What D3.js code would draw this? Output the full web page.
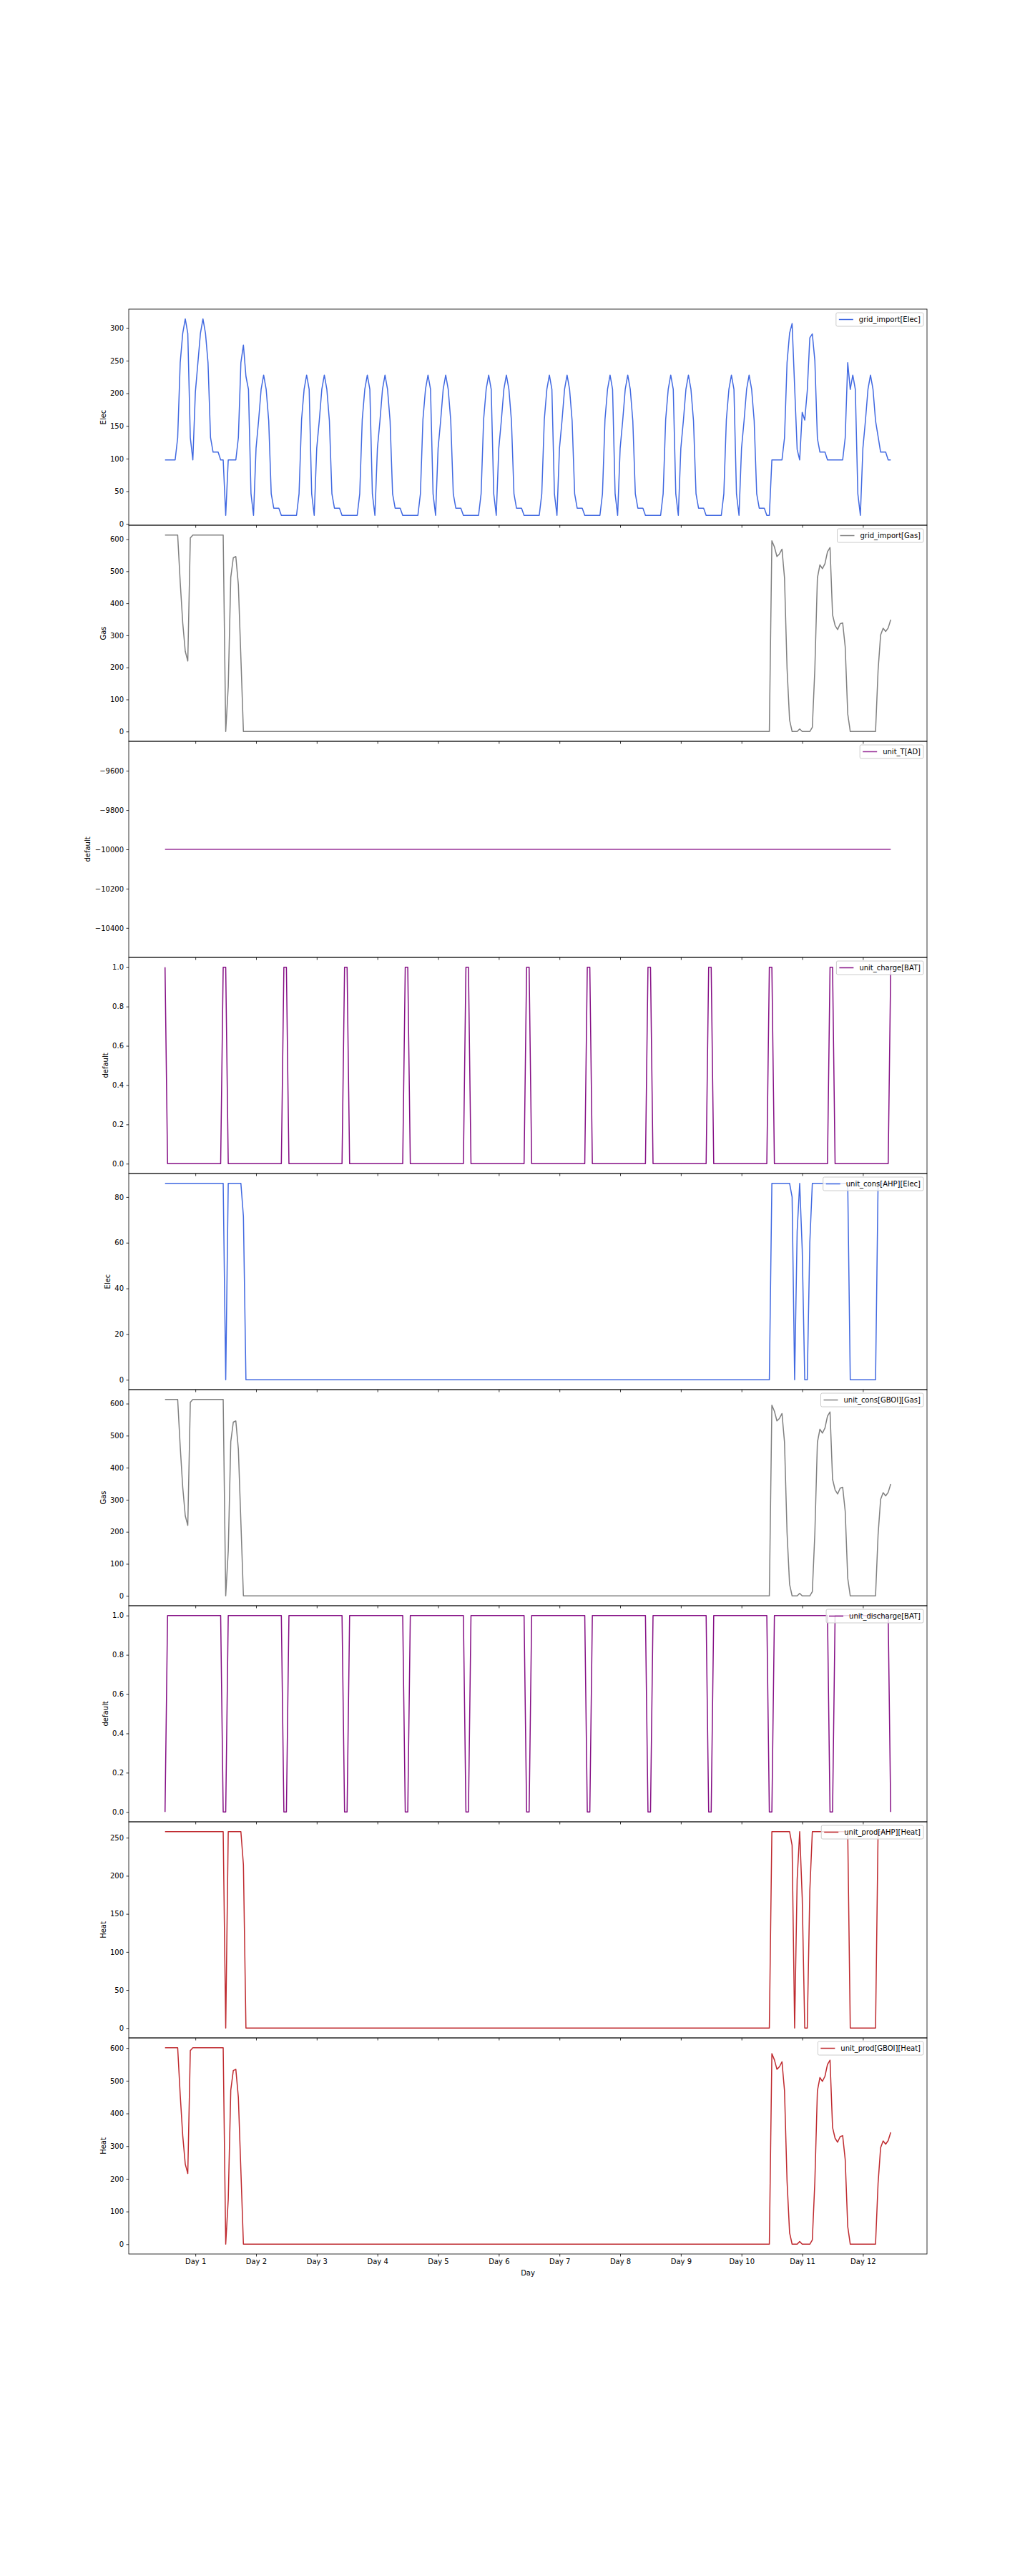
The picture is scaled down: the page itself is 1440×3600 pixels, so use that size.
<!DOCTYPE html>
<html>
<head>
<meta charset="utf-8">
<script src="https://cdn.jsdelivr.net/npm/d3@7"></script>
<style>
  body { margin: 0; background: #ffffff; }
  text { font-family: "DejaVu Sans", sans-serif; fill: #000; }
</style>
</head>
<body>
<svg id="chart" width="1440" height="3600"></svg>
<script>
// ---------------- DATA (hourly, 12 days = 288 points) ----------------
const dayLabels = ["Day 1","Day 2","Day 3","Day 4","Day 5","Day 6","Day 7","Day 8","Day 9","Day 10","Day 11","Day 12"];
const dayTickHours = [12,36,60,84,108,132,156,180,204,228,252,276];
const xLabel = "Day";

const gridImportElec = [
  98,98,98,98,98,132,247,292,314,292,132,98,202,247,292,314,292,247,132,110,110,110,98,98,
  13,98,98,98,98,132,247,274,226,206,46,13,116,158,206,228,206,158,46,24,24,24,13,13,
  13,13,13,13,13,46,160,206,228,206,46,13,116,158,206,228,206,158,46,24,24,24,13,13,
  13,13,13,13,13,46,160,206,228,206,46,13,116,158,206,228,206,158,46,24,24,24,13,13,
  13,13,13,13,13,46,160,206,228,206,46,13,116,158,206,228,206,158,46,24,24,24,13,13,
  13,13,13,13,13,46,160,206,228,206,46,13,116,158,206,228,206,158,46,24,24,24,13,13,
  13,13,13,13,13,46,160,206,228,206,46,13,116,158,206,228,206,158,46,24,24,24,13,13,
  13,13,13,13,13,46,160,206,228,206,46,13,116,158,206,228,206,158,46,24,24,24,13,13,
  13,13,13,13,13,46,160,206,228,206,46,13,116,158,206,228,206,158,46,24,24,24,13,13,
  13,13,13,13,13,46,160,206,228,206,46,13,116,158,206,228,206,158,46,24,24,24,13,13,
  98,98,98,98,98,132,247,292,307,210,114,98,171,159,204,285,291,250,131,110,110,110,98,98,
  98,98,98,98,98,132,247,206,228,206,46,13,116,158,206,228,206,158,134,110,110,110,98,98
];

const gridImportGas = [
  613,613,613,613,613,613,466,339,250,220,604,613,613,613,613,613,613,613,613,613,613,613,613,613,
  0,140,481,542,546,458,230,0,0,0,0,0,0,0,0,0,0,0,0,0,0,0,0,0,
  0,0,0,0,0,0,0,0,0,0,0,0,0,0,0,0,0,0,0,0,0,0,0,0,
  0,0,0,0,0,0,0,0,0,0,0,0,0,0,0,0,0,0,0,0,0,0,0,0,
  0,0,0,0,0,0,0,0,0,0,0,0,0,0,0,0,0,0,0,0,0,0,0,0,
  0,0,0,0,0,0,0,0,0,0,0,0,0,0,0,0,0,0,0,0,0,0,0,0,
  0,0,0,0,0,0,0,0,0,0,0,0,0,0,0,0,0,0,0,0,0,0,0,0,
  0,0,0,0,0,0,0,0,0,0,0,0,0,0,0,0,0,0,0,0,0,0,0,0,
  0,0,0,0,0,0,0,0,0,0,0,0,0,0,0,0,0,0,0,0,0,0,0,0,
  0,0,0,0,0,0,0,0,0,0,0,0,0,0,0,0,0,0,0,0,0,0,0,0,
  595,576,546,554,569,479,197,36,0,0,0,8,0,0,0,0,13,196,479,520,508,524,561,574,
  364,331,318,336,339,264,55,0,0,0,0,0,0,0,0,0,0,0,190,301,322,312,323,349
];

const unitTAD = [
  -10000,-10000,-10000,-10000,-10000,-10000,-10000,-10000,-10000,-10000,-10000,-10000,-10000,-10000,-10000,-10000,-10000,-10000,-10000,-10000,-10000,-10000,-10000,-10000,
  -10000,-10000,-10000,-10000,-10000,-10000,-10000,-10000,-10000,-10000,-10000,-10000,-10000,-10000,-10000,-10000,-10000,-10000,-10000,-10000,-10000,-10000,-10000,-10000,
  -10000,-10000,-10000,-10000,-10000,-10000,-10000,-10000,-10000,-10000,-10000,-10000,-10000,-10000,-10000,-10000,-10000,-10000,-10000,-10000,-10000,-10000,-10000,-10000,
  -10000,-10000,-10000,-10000,-10000,-10000,-10000,-10000,-10000,-10000,-10000,-10000,-10000,-10000,-10000,-10000,-10000,-10000,-10000,-10000,-10000,-10000,-10000,-10000,
  -10000,-10000,-10000,-10000,-10000,-10000,-10000,-10000,-10000,-10000,-10000,-10000,-10000,-10000,-10000,-10000,-10000,-10000,-10000,-10000,-10000,-10000,-10000,-10000,
  -10000,-10000,-10000,-10000,-10000,-10000,-10000,-10000,-10000,-10000,-10000,-10000,-10000,-10000,-10000,-10000,-10000,-10000,-10000,-10000,-10000,-10000,-10000,-10000,
  -10000,-10000,-10000,-10000,-10000,-10000,-10000,-10000,-10000,-10000,-10000,-10000,-10000,-10000,-10000,-10000,-10000,-10000,-10000,-10000,-10000,-10000,-10000,-10000,
  -10000,-10000,-10000,-10000,-10000,-10000,-10000,-10000,-10000,-10000,-10000,-10000,-10000,-10000,-10000,-10000,-10000,-10000,-10000,-10000,-10000,-10000,-10000,-10000,
  -10000,-10000,-10000,-10000,-10000,-10000,-10000,-10000,-10000,-10000,-10000,-10000,-10000,-10000,-10000,-10000,-10000,-10000,-10000,-10000,-10000,-10000,-10000,-10000,
  -10000,-10000,-10000,-10000,-10000,-10000,-10000,-10000,-10000,-10000,-10000,-10000,-10000,-10000,-10000,-10000,-10000,-10000,-10000,-10000,-10000,-10000,-10000,-10000,
  -10000,-10000,-10000,-10000,-10000,-10000,-10000,-10000,-10000,-10000,-10000,-10000,-10000,-10000,-10000,-10000,-10000,-10000,-10000,-10000,-10000,-10000,-10000,-10000,
  -10000,-10000,-10000,-10000,-10000,-10000,-10000,-10000,-10000,-10000,-10000,-10000,-10000,-10000,-10000,-10000,-10000,-10000,-10000,-10000,-10000,-10000,-10000,-10000
];

const unitChargeBAT = [
  1,0,0,0,0,0,0,0,0,0,0,0,0,0,0,0,0,0,0,0,0,0,0,1,
  1,0,0,0,0,0,0,0,0,0,0,0,0,0,0,0,0,0,0,0,0,0,0,1,
  1,0,0,0,0,0,0,0,0,0,0,0,0,0,0,0,0,0,0,0,0,0,0,1,
  1,0,0,0,0,0,0,0,0,0,0,0,0,0,0,0,0,0,0,0,0,0,0,1,
  1,0,0,0,0,0,0,0,0,0,0,0,0,0,0,0,0,0,0,0,0,0,0,1,
  1,0,0,0,0,0,0,0,0,0,0,0,0,0,0,0,0,0,0,0,0,0,0,1,
  1,0,0,0,0,0,0,0,0,0,0,0,0,0,0,0,0,0,0,0,0,0,0,1,
  1,0,0,0,0,0,0,0,0,0,0,0,0,0,0,0,0,0,0,0,0,0,0,1,
  1,0,0,0,0,0,0,0,0,0,0,0,0,0,0,0,0,0,0,0,0,0,0,1,
  1,0,0,0,0,0,0,0,0,0,0,0,0,0,0,0,0,0,0,0,0,0,0,1,
  1,0,0,0,0,0,0,0,0,0,0,0,0,0,0,0,0,0,0,0,0,0,0,1,
  1,0,0,0,0,0,0,0,0,0,0,0,0,0,0,0,0,0,0,0,0,0,0,1
];

const unitConsAHPElec = [
  86,86,86,86,86,86,86,86,86,86,86,86,86,86,86,86,86,86,86,86,86,86,86,86,
  0,86,86,86,86,86,86,71.5,0,0,0,0,0,0,0,0,0,0,0,0,0,0,0,0,
  0,0,0,0,0,0,0,0,0,0,0,0,0,0,0,0,0,0,0,0,0,0,0,0,
  0,0,0,0,0,0,0,0,0,0,0,0,0,0,0,0,0,0,0,0,0,0,0,0,
  0,0,0,0,0,0,0,0,0,0,0,0,0,0,0,0,0,0,0,0,0,0,0,0,
  0,0,0,0,0,0,0,0,0,0,0,0,0,0,0,0,0,0,0,0,0,0,0,0,
  0,0,0,0,0,0,0,0,0,0,0,0,0,0,0,0,0,0,0,0,0,0,0,0,
  0,0,0,0,0,0,0,0,0,0,0,0,0,0,0,0,0,0,0,0,0,0,0,0,
  0,0,0,0,0,0,0,0,0,0,0,0,0,0,0,0,0,0,0,0,0,0,0,0,
  0,0,0,0,0,0,0,0,0,0,0,0,0,0,0,0,0,0,0,0,0,0,0,0,
  86,86,86,86,86,86,86,86,80,0,65,86,57,0,0,60,86,86,86,86,86,86,86,86,
  86,86,86,86,86,86,86,0,0,0,0,0,0,0,0,0,0,0,86,86,86,86,86,86
];

const unitConsGBOIGas = [
  613,613,613,613,613,613,466,339,250,220,604,613,613,613,613,613,613,613,613,613,613,613,613,613,
  0,140,481,542,546,458,230,0,0,0,0,0,0,0,0,0,0,0,0,0,0,0,0,0,
  0,0,0,0,0,0,0,0,0,0,0,0,0,0,0,0,0,0,0,0,0,0,0,0,
  0,0,0,0,0,0,0,0,0,0,0,0,0,0,0,0,0,0,0,0,0,0,0,0,
  0,0,0,0,0,0,0,0,0,0,0,0,0,0,0,0,0,0,0,0,0,0,0,0,
  0,0,0,0,0,0,0,0,0,0,0,0,0,0,0,0,0,0,0,0,0,0,0,0,
  0,0,0,0,0,0,0,0,0,0,0,0,0,0,0,0,0,0,0,0,0,0,0,0,
  0,0,0,0,0,0,0,0,0,0,0,0,0,0,0,0,0,0,0,0,0,0,0,0,
  0,0,0,0,0,0,0,0,0,0,0,0,0,0,0,0,0,0,0,0,0,0,0,0,
  0,0,0,0,0,0,0,0,0,0,0,0,0,0,0,0,0,0,0,0,0,0,0,0,
  595,576,546,554,569,479,197,36,0,0,0,8,0,0,0,0,13,196,479,520,508,524,561,574,
  364,331,318,336,339,264,55,0,0,0,0,0,0,0,0,0,0,0,190,301,322,312,323,349
];

const unitDischargeBAT = [
  0,1,1,1,1,1,1,1,1,1,1,1,1,1,1,1,1,1,1,1,1,1,1,0,
  0,1,1,1,1,1,1,1,1,1,1,1,1,1,1,1,1,1,1,1,1,1,1,0,
  0,1,1,1,1,1,1,1,1,1,1,1,1,1,1,1,1,1,1,1,1,1,1,0,
  0,1,1,1,1,1,1,1,1,1,1,1,1,1,1,1,1,1,1,1,1,1,1,0,
  0,1,1,1,1,1,1,1,1,1,1,1,1,1,1,1,1,1,1,1,1,1,1,0,
  0,1,1,1,1,1,1,1,1,1,1,1,1,1,1,1,1,1,1,1,1,1,1,0,
  0,1,1,1,1,1,1,1,1,1,1,1,1,1,1,1,1,1,1,1,1,1,1,0,
  0,1,1,1,1,1,1,1,1,1,1,1,1,1,1,1,1,1,1,1,1,1,1,0,
  0,1,1,1,1,1,1,1,1,1,1,1,1,1,1,1,1,1,1,1,1,1,1,0,
  0,1,1,1,1,1,1,1,1,1,1,1,1,1,1,1,1,1,1,1,1,1,1,0,
  0,1,1,1,1,1,1,1,1,1,1,1,1,1,1,1,1,1,1,1,1,1,1,0,
  0,1,1,1,1,1,1,1,1,1,1,1,1,1,1,1,1,1,1,1,1,1,1,0
];

const unitProdAHPHeat = [
  258,258,258,258,258,258,258,258,258,258,258,258,258,258,258,258,258,258,258,258,258,258,258,258,
  0,258,258,258,258,258,258,214.5,0,0,0,0,0,0,0,0,0,0,0,0,0,0,0,0,
  0,0,0,0,0,0,0,0,0,0,0,0,0,0,0,0,0,0,0,0,0,0,0,0,
  0,0,0,0,0,0,0,0,0,0,0,0,0,0,0,0,0,0,0,0,0,0,0,0,
  0,0,0,0,0,0,0,0,0,0,0,0,0,0,0,0,0,0,0,0,0,0,0,0,
  0,0,0,0,0,0,0,0,0,0,0,0,0,0,0,0,0,0,0,0,0,0,0,0,
  0,0,0,0,0,0,0,0,0,0,0,0,0,0,0,0,0,0,0,0,0,0,0,0,
  0,0,0,0,0,0,0,0,0,0,0,0,0,0,0,0,0,0,0,0,0,0,0,0,
  0,0,0,0,0,0,0,0,0,0,0,0,0,0,0,0,0,0,0,0,0,0,0,0,
  0,0,0,0,0,0,0,0,0,0,0,0,0,0,0,0,0,0,0,0,0,0,0,0,
  258,258,258,258,258,258,258,258,240,0,195,258,171,0,0,180,258,258,258,258,258,258,258,258,
  258,258,258,258,258,258,258,0,0,0,0,0,0,0,0,0,0,0,258,258,258,258,258,258
];

const unitProdGBOIHeat = [
  601,601,601,601,601,601,457,332,245,216,592,601,601,601,601,601,601,601,601,601,601,601,601,601,
  0,137,471,531,535,449,225,0,0,0,0,0,0,0,0,0,0,0,0,0,0,0,0,0,
  0,0,0,0,0,0,0,0,0,0,0,0,0,0,0,0,0,0,0,0,0,0,0,0,
  0,0,0,0,0,0,0,0,0,0,0,0,0,0,0,0,0,0,0,0,0,0,0,0,
  0,0,0,0,0,0,0,0,0,0,0,0,0,0,0,0,0,0,0,0,0,0,0,0,
  0,0,0,0,0,0,0,0,0,0,0,0,0,0,0,0,0,0,0,0,0,0,0,0,
  0,0,0,0,0,0,0,0,0,0,0,0,0,0,0,0,0,0,0,0,0,0,0,0,
  0,0,0,0,0,0,0,0,0,0,0,0,0,0,0,0,0,0,0,0,0,0,0,0,
  0,0,0,0,0,0,0,0,0,0,0,0,0,0,0,0,0,0,0,0,0,0,0,0,
  0,0,0,0,0,0,0,0,0,0,0,0,0,0,0,0,0,0,0,0,0,0,0,0,
  583,564,535,543,558,469,193,35,0,0,0,8,0,0,0,0,13,192,469,510,498,514,550,563,
  357,324,312,329,332,259,54,0,0,0,0,0,0,0,0,0,0,0,186,295,316,306,317,342
];

// y tick values per panel
const ticksElec = [0,50,100,150,200,250,300];
const ticksGas = [0,100,200,300,400,500,600];
const ticksT = [-10400,-10200,-10000,-9800,-9600];
const ticksUnit = [0,0.2,0.4,0.6,0.8,1.0];
const ticksAHPElec = [0,20,40,60,80];
const ticksAHPHeat = [0,50,100,150,200,250];
const ticksGBOIHeat = [0,100,200,300,400,500,600];

const seriesNames = ["grid_import[Elec]","grid_import[Gas]","unit_T[AD]","unit_charge[BAT]",
  "unit_cons[AHP][Elec]","unit_cons[GBOI][Gas]","unit_discharge[BAT]","unit_prod[AHP][Heat]","unit_prod[GBOI][Heat]"];
const yLabels = ["Elec","Gas","default","default","Elec","Gas","default","Heat","Heat"];

// ---------------- LAYOUT / STYLE ----------------
const C_ELEC = "#4169e1", C_GAS = "#808080", C_DEF = "#993399", C_BAT = "#850f85", C_HEAT = "#bf2a2f";
const panels = [
  {values: gridImportElec, ticks: ticksElec, dec: 0, color: C_ELEC},
  {values: gridImportGas, ticks: ticksGas, dec: 0, color: C_GAS},
  {values: unitTAD, ticks: ticksT, dec: 0, color: C_DEF},
  {values: unitChargeBAT, ticks: ticksUnit, dec: 1, color: C_BAT},
  {values: unitConsAHPElec, ticks: ticksAHPElec, dec: 0, color: C_ELEC},
  {values: unitConsGBOIGas, ticks: ticksGas, dec: 0, color: C_GAS},
  {values: unitDischargeBAT, ticks: ticksUnit, dec: 1, color: C_BAT},
  {values: unitProdAHPHeat, ticks: ticksAHPHeat, dec: 0, color: C_HEAT},
  {values: unitProdGBOIHeat, ticks: ticksGBOIHeat, dec: 0, color: C_HEAT}
];

const axLeft = 180, axRight = 1296, axTop = 432, axBottom = 3150;
const ph = (axBottom - axTop) / panels.length;
const FS = 10;

const svg = d3.select("#chart");
svg.append("rect").attr("width", 1440).attr("height", 3600).attr("fill", "#fff");

const nPts = gridImportElec.length;
const xMargin = (nPts - 1) * 0.05;
const x = d3.scaleLinear().domain([-xMargin, nPts - 1 + xMargin]).range([axLeft, axRight]);

function mplDomain(vals) {
  let lo = d3.min(vals), hi = d3.max(vals);
  if (hi - lo < 1e-12) {
    if (hi === 0) { lo = -0.05; hi = 0.05; }
    else { lo = lo - 0.05 * Math.abs(lo); hi = hi + 0.05 * Math.abs(hi); }
  }
  const m = (hi - lo) * 0.05;
  return [lo - m, hi + m];
}
function fmt(v, dec) {
  const s = v.toFixed(dec);
  return s.replace("-", "\u2212");
}

const defs = svg.append("defs");

panels.forEach((p, k) => {
  const top = axTop + k * ph, bot = top + ph;
  const y = d3.scaleLinear().domain(mplDomain(p.values)).range([bot, top]);
  const g = svg.append("g");

  defs.append("clipPath").attr("id", "clip" + k)
    .append("rect").attr("x", axLeft).attr("y", top).attr("width", axRight - axLeft).attr("height", ph);

  // line
  const line = d3.line().x((d, i) => x(i)).y(d => y(d));
  g.append("path").datum(p.values)
    .attr("clip-path", "url(#clip" + k + ")")
    .attr("fill", "none").attr("stroke", p.color).attr("stroke-width", 1.5)
    .attr("stroke-linejoin", "round").attr("stroke-linecap", "butt")
    .attr("d", line);

  // y axis
  const yAxis = d3.axisLeft(y).tickValues(p.ticks).tickSize(3.5).tickPadding(3.5)
    .tickFormat(v => fmt(v, p.dec));
  const ga = g.append("g").attr("transform", `translate(${axLeft},0)`).call(yAxis);
  ga.select(".domain").remove();
  ga.selectAll(".tick line").attr("stroke", "#000").attr("stroke-width", 0.8);
  ga.selectAll(".tick text").attr("font-size", FS).attr("font-family", "DejaVu Sans").attr("fill", "#000");

  // y label
  let minX = axLeft;
  ga.selectAll(".tick text").each(function () {
    const b = this.getBBox();
    minX = Math.min(minX, axLeft + b.x);
  });
  g.append("text")
    .attr("transform", `translate(${minX - 4 - 2.4},${(top + bot) / 2}) rotate(-90)`)
    .attr("text-anchor", "middle").attr("font-size", FS)
    .text(yLabels[k]);

  // x ticks on bottom of each panel
  const xAxis = d3.axisBottom(x).tickValues(dayTickHours).tickSize(3.5).tickPadding(3.5)
    .tickFormat((d, i) => k === panels.length - 1 ? dayLabels[i] : "");
  const gx = g.append("g").attr("transform", `translate(0,${bot})`).call(xAxis);
  gx.select(".domain").remove();
  gx.selectAll(".tick line").attr("stroke", "#000").attr("stroke-width", 0.8);
  gx.selectAll(".tick text").attr("font-size", FS).attr("font-family", "DejaVu Sans").attr("fill", "#000");

  // frame
  g.append("rect").attr("x", axLeft).attr("y", top).attr("width", axRight - axLeft).attr("height", ph)
    .attr("fill", "none").attr("stroke", "#000").attr("stroke-width", 0.8);

  // legend
  const lg = g.append("g");
  const txt = lg.append("text").attr("font-size", FS).text(seriesNames[k]);
  const tw = txt.node().getComputedTextLength();
  const bw = tw + 36, bh = 19;
  const bx = axRight - 5 - bw, by = top + 5;
  lg.insert("rect", "text").attr("x", bx).attr("y", by).attr("width", bw).attr("height", bh)
    .attr("rx", 2).attr("ry", 2)
    .attr("fill", "#fff").attr("fill-opacity", 0.8).attr("stroke", "#cccccc").attr("stroke-width", 1);
  lg.append("line").attr("x1", bx + 4).attr("x2", bx + 24)
    .attr("y1", by + bh / 2).attr("y2", by + bh / 2)
    .attr("stroke", p.color).attr("stroke-width", 1.5);
  txt.attr("x", bx + 32).attr("y", by + bh / 2 + 3.6);
});

// x label
svg.append("text").attr("x", (axLeft + axRight) / 2).attr("y", axBottom + 30)
  .attr("text-anchor", "middle").attr("font-size", FS).text(xLabel);
</script>
</body>
</html>
